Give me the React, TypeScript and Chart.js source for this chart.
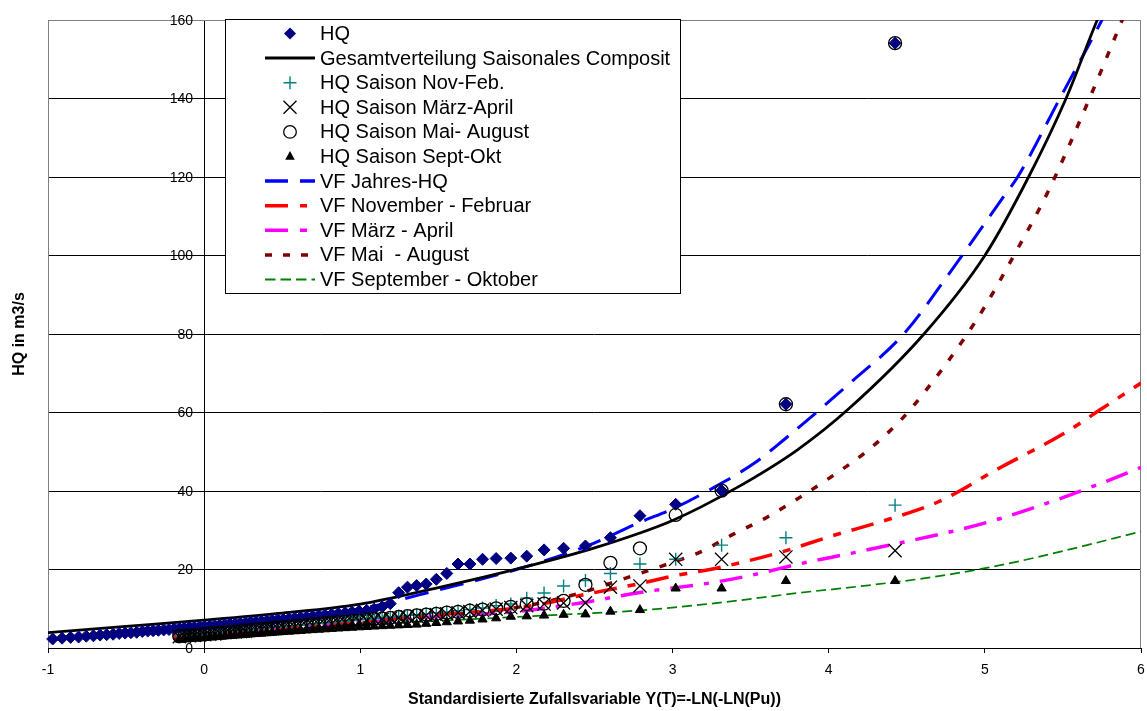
import React, { useEffect, useRef } from "react";
import { Chart, registerables } from "chart.js";

Chart.register(...registerables);

const FONT = "'Liberation Sans', Arial, Helvetica, sans-serif";

// ---------- DATA ----------
const seriesNames = [
  "HQ",
  "Gesamtverteilung Saisonales Composit",
  "HQ Saison Nov-Feb.",
  "HQ Saison März-April",
  "HQ Saison Mai- August",
  "HQ Saison Sept-Okt",
  "VF Jahres-HQ",
  "VF November - Februar",
  "VF März - April",
  "VF Mai  - August",
  "VF September - Oktober",
];

const xTitle = "Standardisierte Zufallsvariable Y(T)=-LN(-LN(Pu))";
const yTitle = "HQ in m3/s";
const xTickValues = [-1, 0, 1, 2, 3, 4, 5, 6];
const xTickLabels = ["-1", "0", "1", "2", "3", "4", "5", "6"];
const yTickValues = [0, 20, 40, 60, 80, 100, 120, 140, 160];
const yTickLabels = ["0", "20", "40", "60", "80", "100", "120", "140", "160"];

// plotting positions (reduced variate) of the annual series
const hqPos = [
  -0.970, -0.910, -0.855, -0.804, -0.755, -0.709, -0.666, -0.624, -0.583, -0.544,
  -0.506, -0.469, -0.432, -0.396, -0.361, -0.327, -0.293, -0.259, -0.225, -0.192,
  -0.159, -0.127, -0.094, -0.062, -0.029, 0.003, 0.036, 0.068, 0.100, 0.133,
  0.166, 0.199, 0.232, 0.265, 0.298, 0.332, 0.367, 0.401, 0.436, 0.471,
  0.507, 0.544, 0.581, 0.618, 0.656, 0.695, 0.735, 0.775, 0.817, 0.859,
  0.903, 0.947, 0.993, 1.041, 1.089, 1.140, 1.192, 1.246, 1.302, 1.361,
  1.422, 1.487, 1.554, 1.626, 1.702, 1.783, 1.870, 1.964, 2.066, 2.177,
  2.302, 2.442, 2.602, 2.791, 3.020, 3.314, 3.726, 4.425,
];
const hqValues = [
  2.3, 2.5, 2.7, 2.8, 3.0, 3.1, 3.3, 3.4, 3.5, 3.7,
  3.8, 3.9, 4.0, 4.2, 4.3, 4.4, 4.5, 4.6, 4.7, 4.9,
  5.0, 5.1, 5.2, 5.3, 5.4, 5.5, 5.6, 5.7, 5.8, 6.0,
  6.1, 6.2, 6.3, 6.4, 6.6, 6.7, 6.8, 6.9, 7.1, 7.2,
  7.3, 7.5, 7.6, 7.8, 7.9, 8.1, 8.3, 8.4, 8.6, 8.8,
  9.0, 9.2, 9.4, 9.6, 9.9, 10.5, 11.3, 14.1, 15.5, 15.9,
  16.3, 17.5, 19.0, 21.4, 21.4, 22.6, 22.8, 22.9, 23.4, 25.0,
  25.4, 26.0, 28.1, 33.7, 36.6, 40.1, 62.1, 154.1,
];

// plotting positions of the seasonal series
const seasonPos = [
  -0.159, -0.127, -0.094, -0.062, -0.029, 0.003, 0.036, 0.068, 0.100, 0.133,
  0.166, 0.199, 0.232, 0.265, 0.298, 0.332, 0.367, 0.401, 0.436, 0.471,
  0.507, 0.544, 0.581, 0.618, 0.656, 0.695, 0.735, 0.775, 0.817, 0.859,
  0.903, 0.947, 0.993, 1.041, 1.089, 1.140, 1.192, 1.246, 1.302, 1.361,
  1.422, 1.487, 1.554, 1.626, 1.702, 1.783, 1.870, 1.964, 2.066, 2.177,
  2.302, 2.442, 2.602, 2.791, 3.020, 3.314, 3.726, 4.425,
];
const novFebValues = [
  3.1, 3.2, 3.3, 3.4, 3.5, 3.6, 3.7, 3.8, 3.9, 4.1,
  4.2, 4.3, 4.4, 4.5, 4.6, 4.8, 4.9, 5.0, 5.2, 5.3,
  5.4, 5.5, 5.7, 5.8, 5.9, 6.1, 6.2, 6.4, 6.5, 6.7,
  6.8, 7.0, 7.2, 7.3, 7.5, 7.7, 7.9, 8.1, 8.3, 8.5,
  8.7, 9.0, 9.2, 9.5, 9.8, 10.2, 10.8, 11.2, 12.7, 14.0,
  15.8, 17.2, 19.0, 21.4, 22.6, 26.2, 28.1, 36.4,
];
const maerzAprilValues = [
  2.9, 3.0, 3.1, 3.2, 3.3, 3.4, 3.5, 3.6, 3.8, 3.9,
  4.0, 4.1, 4.2, 4.3, 4.5, 4.6, 4.7, 4.8, 4.9, 5.0,
  5.2, 5.3, 5.4, 5.6, 5.7, 5.8, 6.0, 6.1, 6.2, 6.4,
  6.5, 6.7, 6.8, 7.0, 7.2, 7.3, 7.5, 7.7, 7.9, 8.1,
  8.3, 8.5, 8.7, 9.0, 9.3, 9.6, 9.9, 10.3, 10.8, 11.2,
  11.5, 11.5, 15.5, 15.8, 22.6, 22.6, 23.2, 24.8,
];
const maiAugValues = [
  3.0, 3.1, 3.2, 3.3, 3.4, 3.6, 3.7, 3.8, 3.9, 4.0,
  4.1, 4.2, 4.4, 4.5, 4.6, 4.7, 4.8, 4.9, 5.1, 5.2,
  5.3, 5.5, 5.6, 5.7, 5.9, 6.0, 6.1, 6.3, 6.4, 6.6,
  6.7, 6.9, 7.0, 7.2, 7.4, 7.5, 7.7, 7.9, 8.1, 8.3,
  8.5, 8.7, 9.0, 9.2, 9.5, 9.8, 10.1, 10.5, 11.2, 11.3,
  12.0, 16.1, 21.7, 25.4, 33.9, 40.1, 62.1, 154.1,
];
const septOktValues = [
  2.2, 2.3, 2.4, 2.5, 2.5, 2.6, 2.7, 2.8, 2.9, 3.0,
  3.1, 3.2, 3.3, 3.4, 3.5, 3.6, 3.7, 3.8, 3.9, 4.0,
  4.1, 4.2, 4.3, 4.4, 4.5, 4.6, 4.7, 4.8, 4.9, 5.0,
  5.1, 5.2, 5.3, 5.4, 5.5, 5.6, 5.7, 5.8, 5.9, 6.0,
  6.2, 6.4, 6.6, 6.8, 7.0, 7.3, 7.6, 8.0, 8.1, 8.3,
  8.5, 8.6, 9.3, 9.7, 15.2, 15.2, 17.1, 17.1,
];

// distribution curves
const gesamtX = [-1, -0.5, 0, 0.5, 1, 1.5, 2, 2.5, 3, 3.4, 3.8, 4.13, 4.61, 5, 5.28, 5.52, 5.72, 5.8];
const gesamtY = [3.9, 5.5, 7.1, 8.9, 11.2, 15.4, 20.1, 25.5, 32.5, 40.6, 50.5, 61, 80, 100, 120, 140, 160, 167];

const jahresX = [-1, -0.5, 0, 0.5, 1, 1.5, 2, 2.44, 2.79, 3.02, 3.26, 3.52, 3.69, 4.16, 4.48, 4.8, 5.12, 5.21, 5.48, 5.75, 5.8];
const jahresY = [2.1, 3.8, 5.7, 7.7, 10.0, 14.8, 20.0, 25.8, 32.0, 35.8, 40.8, 47, 52.3, 68.3, 80, 97, 115, 120, 140, 160, 164];

const novFebX = [-0.2, 0.5, 1, 1.5, 2, 2.2, 2.4, 2.8, 3, 3.3, 3.7, 4, 4.4, 4.7, 5.1, 5.5, 5.75, 6];
const novFebY = [3.0, 5.0, 6.8, 8.5, 10.2, 11.5, 13.3, 16.5, 18.3, 20.5, 24.5, 28.3, 33, 37.2, 46, 54.5, 61, 67.5];

const maerzAprilX = [-0.2, 0.5, 1, 1.5, 2, 2.4, 2.8, 3.26, 3.5, 3.82, 4.14, 4.46, 4.78, 5.1, 5.42, 5.74, 6];
const maerzAprilY = [3.0, 5.0, 6.5, 8.0, 9.3, 11.4, 14.2, 16.7, 18.5, 21.5, 24.1, 26.8, 29.6, 33.0, 37.2, 41.9, 46.0];

const maiAugX = [-0.2, 0.5, 1, 1.5, 2, 2.4, 2.73, 2.94, 3.18, 3.39, 3.6, 3.82, 4.03, 4.24, 4.46, 4.63, 4.87, 5, 5.2, 5.405, 5.67, 5.89];
const maiAugY = [2.5, 4.5, 6.3, 8.2, 10.3, 13.9, 18.2, 21.0, 24.5, 29.0, 33.2, 38.5, 44.0, 50.0, 58.0, 66.0, 79, 87, 101, 116.3, 140, 161];

const septOktX = [-0.2, 0.5, 1, 1.5, 2, 2.4, 2.8, 3.2, 3.4, 3.8, 4.24, 4.67, 5.1, 5.52, 6];
const septOktY = [3.0, 4.6, 5.8, 6.9, 7.9, 8.7, 9.6, 11.1, 12.0, 14.0, 15.9, 18.1, 21.1, 24.9, 29.7];

// ---------- STYLE ----------
const NAVY = "#000080";
const TEAL = "#008080";
const BLUE = "#0000FF";
const RED = "#FF0000";
const MAGENTA = "#FF00FF";
const MAROON = "#800000";
const GREEN = "#008000";

const pts = (xs: number[], ys: number[]) => xs.map((x, i) => ({ x, y: ys[i] }));

type LegendSpec = { kind: string; color: string; dash?: number[]; width?: number };
const legendSpecs: LegendSpec[] = [
  { kind: "diamond", color: NAVY },
  { kind: "line", color: "#000000", dash: [], width: 3 },
  { kind: "plus", color: TEAL },
  { kind: "x", color: "#000000" },
  { kind: "circle", color: "#000000" },
  { kind: "triangle", color: "#000000" },
  { kind: "line", color: BLUE, dash: [23, 12], width: 3.5 },
  { kind: "line", color: RED, dash: [23, 12, 7, 12], width: 3.5 },
  { kind: "line", color: MAGENTA, dash: [23, 12, 7, 12], width: 3.5 },
  { kind: "line", color: MAROON, dash: [7, 11], width: 3.5 },
  { kind: "line", color: GREEN, dash: [10.5, 5], width: 1.8 },
];

function drawMarker(ctx: CanvasRenderingContext2D, kind: string, x: number, y: number, color: string) {
  ctx.save();
  ctx.strokeStyle = color;
  ctx.fillStyle = color;
  ctx.setLineDash([]);
  ctx.beginPath();
  if (kind === "diamond") {
    ctx.moveTo(x, y - 6);
    ctx.lineTo(x + 6, y);
    ctx.lineTo(x, y + 6);
    ctx.lineTo(x - 6, y);
    ctx.closePath();
    ctx.fill();
  } else if (kind === "plus") {
    ctx.lineWidth = 1.4;
    ctx.moveTo(x - 6.5, y);
    ctx.lineTo(x + 6.5, y);
    ctx.moveTo(x, y - 6.5);
    ctx.lineTo(x, y + 6.5);
    ctx.stroke();
  } else if (kind === "x") {
    ctx.lineWidth = 1.3;
    ctx.moveTo(x - 6.5, y - 6.5);
    ctx.lineTo(x + 6.5, y + 6.5);
    ctx.moveTo(x + 6.5, y - 6.5);
    ctx.lineTo(x - 6.5, y + 6.5);
    ctx.stroke();
  } else if (kind === "circle") {
    ctx.lineWidth = 1.3;
    ctx.arc(x, y, 6.3, 0, Math.PI * 2);
    ctx.stroke();
  } else if (kind === "triangle") {
    ctx.moveTo(x, y - 5.5);
    ctx.lineTo(x + 4.8, y + 3.3);
    ctx.lineTo(x - 4.8, y + 3.3);
    ctx.closePath();
    ctx.fill();
  }
  ctx.restore();
}

const decorPlugin = {
  id: "decor",
  beforeDatasetsDraw(chart: any) {
    const { ctx, chartArea: a } = chart;
    ctx.save();
    ctx.strokeStyle = "#808080";
    ctx.lineWidth = 1;
    const l = Math.round(a.left) + 0.5;
    const r = Math.round(a.right) - 0.5;
    const t = Math.round(a.top) + 0.5;
    ctx.beginPath();
    ctx.moveTo(l, a.bottom);
    ctx.lineTo(l, t);
    ctx.lineTo(r, t);
    ctx.lineTo(r, a.bottom);
    ctx.stroke();
    ctx.restore();
  },
  afterDraw(chart: any) {
    const { ctx, chartArea: a } = chart;
    const xs = chart.scales.x;
    const ys = chart.scales.y;
    const x0 = xs.getPixelForValue(0);
    ctx.save();
    ctx.fillStyle = "#000";
    ctx.font = `14px ${FONT}`;
    // y tick labels
    ctx.textAlign = "right";
    ctx.textBaseline = "middle";
    yTickValues.forEach((v, i) => {
      ctx.fillText(yTickLabels[i], x0 - 11, ys.getPixelForValue(v) + 1);
    });
    // x tick labels
    ctx.textAlign = "center";
    xTickValues.forEach((v, i) => {
      ctx.fillText(xTickLabels[i], xs.getPixelForValue(v), a.bottom + 22);
    });
    // y title
    ctx.save();
    ctx.translate(20, (a.top + a.bottom) / 2);
    ctx.rotate(-Math.PI / 2);
    ctx.font = `bold 16px ${FONT}`;
    ctx.textAlign = "center";
    ctx.textBaseline = "middle";
    ctx.fillText(yTitle, 0, 0);
    ctx.restore();

    // legend
    const bx = 225.5, by = 19.5, bw = 455, bh = 274;
    ctx.fillStyle = "#fff";
    ctx.fillRect(bx, by, bw, bh);
    ctx.strokeStyle = "#000";
    ctx.lineWidth = 1;
    ctx.strokeRect(bx, by, bw, bh);
    ctx.font = `20px ${FONT}`;
    ctx.textAlign = "left";
    ctx.textBaseline = "middle";
    legendSpecs.forEach((s, i) => {
      const ry = 33.5 + i * 24.6;
      if (s.kind === "line") {
        ctx.save();
        ctx.strokeStyle = s.color;
        ctx.lineWidth = s.width || 2;
        ctx.setLineDash(s.dash || []);
        ctx.beginPath();
        ctx.moveTo(265, ry);
        ctx.lineTo(315, ry);
        ctx.stroke();
        ctx.restore();
      } else {
        drawMarker(ctx, s.kind, 290, ry, s.color);
      }
      ctx.fillStyle = "#000";
      ctx.fillText(seriesNames[i], 320, ry + 1);
    });
    ctx.restore();
  },
};

function lineDs(label: string, xs: number[], ys: number[], color: string, width: number, dash: number[]) {
  return {
    label,
    data: pts(xs, ys),
    showLine: true,
    borderColor: color,
    backgroundColor: color,
    borderWidth: width,
    borderDash: dash,
    pointRadius: 0,
    pointHoverRadius: 0,
    cubicInterpolationMode: "monotone",
    clip: 0,
    order: 10,
  };
}

export default function App() {
  const ref = useRef<HTMLCanvasElement | null>(null);
  useEffect(() => {
    document.body.style.margin = "0";
    if (!ref.current) return;
    const chart = new Chart(ref.current, {
      type: "scatter",
      data: {
        datasets: [
          {
            label: seriesNames[0],
            data: pts(hqPos, hqValues),
            pointStyle: "rectRot",
            pointRadius: 6,
            pointHoverRadius: 6,
            backgroundColor: NAVY,
            borderColor: NAVY,
            borderWidth: 1,
            clip: false,
            order: 6,
          },
          lineDs(seriesNames[1], gesamtX, gesamtY, "#000000", 2.8, []),
          {
            label: seriesNames[2],
            data: pts(seasonPos, novFebValues),
            pointStyle: "cross",
            pointRadius: 6.5,
            pointHoverRadius: 6.5,
            borderColor: TEAL,
            backgroundColor: TEAL,
            borderWidth: 1.4,
            clip: false,
            order: 4,
          },
          {
            label: seriesNames[3],
            data: pts(seasonPos, maerzAprilValues),
            pointStyle: "crossRot",
            pointRadius: 9.3,
            pointHoverRadius: 9.3,
            borderColor: "#000",
            backgroundColor: "#000",
            borderWidth: 1.3,
            clip: false,
            order: 3,
          },
          {
            label: seriesNames[4],
            data: pts(seasonPos, maiAugValues),
            pointStyle: "circle",
            pointRadius: 6.5,
            pointHoverRadius: 6.5,
            borderColor: "#000",
            backgroundColor: "rgba(0,0,0,0)",
            borderWidth: 1.3,
            clip: false,
            order: 2,
          },
          {
            label: seriesNames[5],
            data: pts(seasonPos, septOktValues),
            pointStyle: "triangle",
            pointRadius: 5.3,
            pointHoverRadius: 5.3,
            borderColor: "#000",
            backgroundColor: "#000",
            borderWidth: 1,
            clip: false,
            order: 1,
          },
          lineDs(seriesNames[6], jahresX, jahresY, BLUE, 3, [24, 12]),
          lineDs(seriesNames[7], novFebX, novFebY, RED, 3.5, [23, 11, 8, 11]),
          lineDs(seriesNames[8], maerzAprilX, maerzAprilY, MAGENTA, 3.5, [23, 11, 5, 11]),
          lineDs(seriesNames[9], maiAugX, maiAugY, MAROON, 3.5, [7, 12]),
          lineDs(seriesNames[10], septOktX, septOktY, GREEN, 1.7, [10, 5]),
        ] as any,
      },
      options: {
        responsive: false,
        animation: false,
        devicePixelRatio: 1,
        events: [],
        layout: { autoPadding: false, padding: { left: 48, right: 6, top: 20, bottom: 0 } },
        plugins: {
          legend: { display: false },
          tooltip: { enabled: false },
        },
        scales: {
          x: {
            type: "linear",
            position: "bottom",
            min: -1,
            max: 6,
            ticks: { stepSize: 1, display: false },
            grid: {
              display: true,
              drawOnChartArea: false,
              drawTicks: true,
              tickLength: 5,
              color: "#000",
            },
            border: { display: true, color: "#000", width: 1 },
            title: {
              display: true,
              text: xTitle,
              color: "#000",
              font: { family: FONT, size: 16, weight: "bold" },
              padding: { top: 0, bottom: 2 },
            },
            afterFit: (s: any) => {
              s.height = 63;
              s.paddingLeft = 0;
              s.paddingRight = 0;
            },
          },
          y: {
            type: "linear",
            position: { x: 0 },
            min: 0,
            max: 160,
            ticks: { stepSize: 20, display: false },
            grid: {
              color: (c: any) => (c.tick && c.tick.value === 160 ? "#808080" : "#000"),
              drawTicks: false,
              lineWidth: 1,
            },
            border: { display: true, color: "#000", width: 1 },
          },
        } as any,
      },
      plugins: [decorPlugin],
    });
    return () => chart.destroy();
  }, []);
  return (
    <div style={{ width: 1147, height: 711, background: "#fff" }}>
      <canvas ref={ref} width={1147} height={711} style={{ display: "block" }} />
    </div>
  );
}
